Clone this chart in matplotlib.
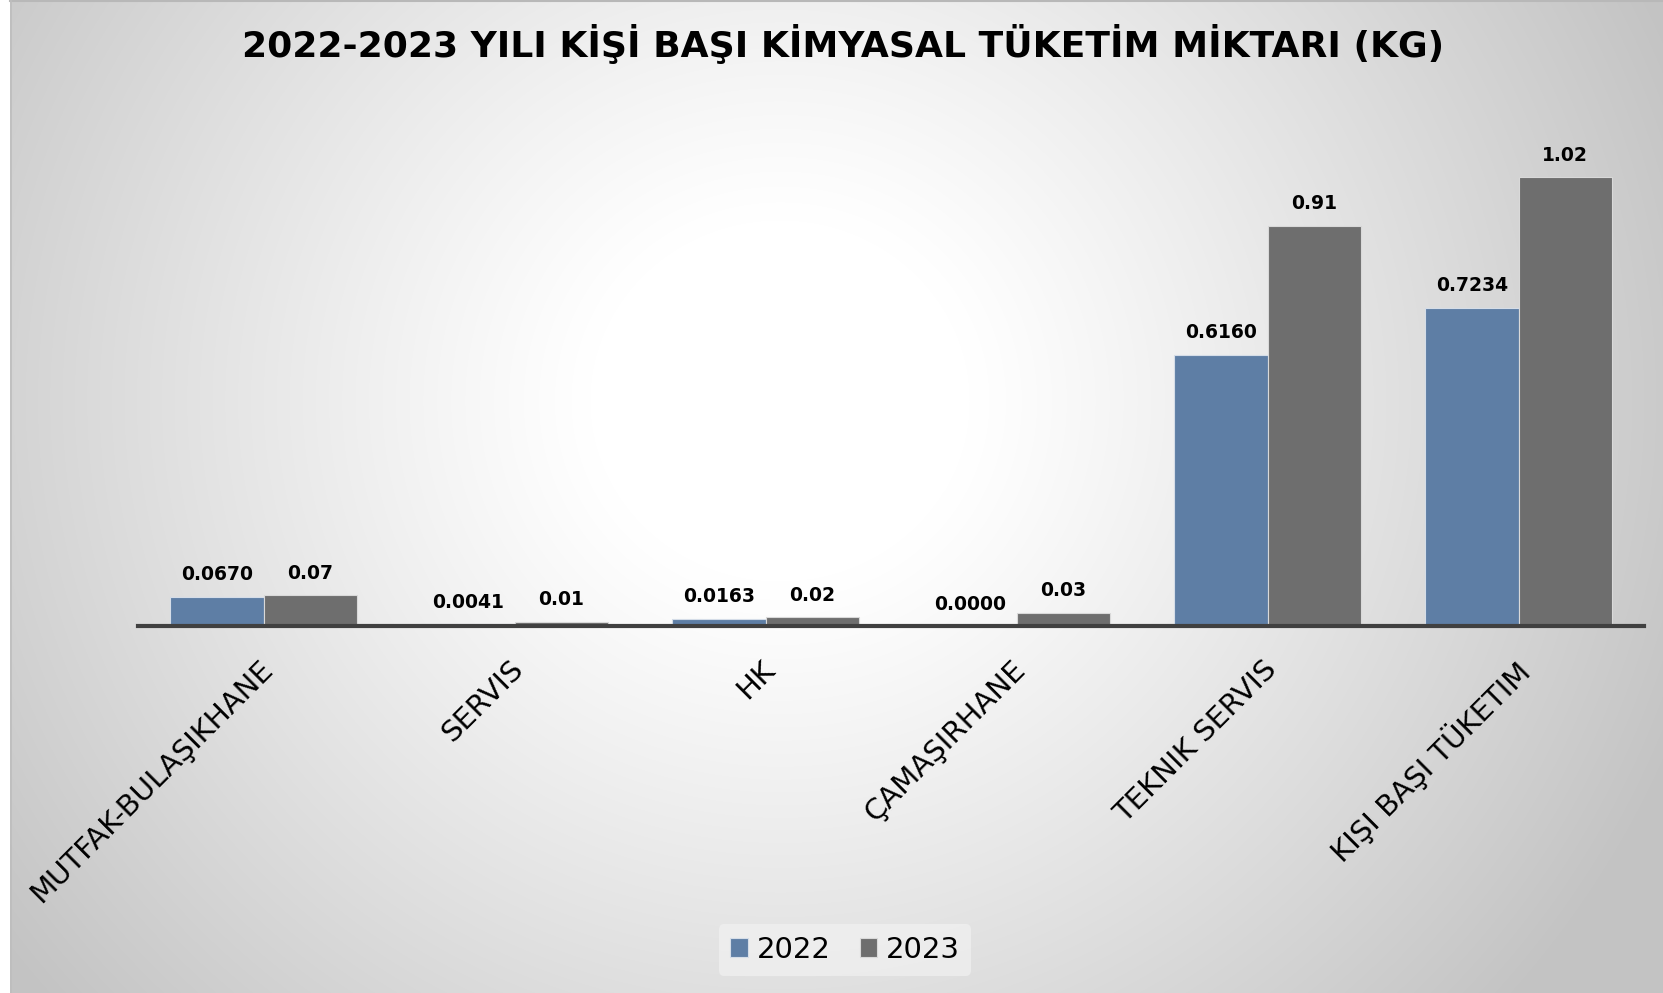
import numpy as np
import matplotlib
matplotlib.use("Agg")
import matplotlib.pyplot as plt

plt.rcParams['font.family'] = ['DejaVu Sans']

categories = ["MUTFAK-BULAŞIKHANE", "SERVIS", "HK", "ÇAMAŞIRHANE", "TEKNIK SERVIS", "KIŞI BAŞI TÜKETIM"]
years = ["2022", "2023"]
values_2022 = [0.0670, 0.0041, 0.0163, 0.0000, 0.6160, 0.7234]
values_2023 = [0.07, 0.01, 0.02, 0.03, 0.91, 1.02]

COLOR_2022 = "#5e7ea5"
COLOR_2023 = "#6e6e6e"

W, H = 1663, 993
fig = plt.figure(figsize=(W / 100, H / 100), dpi=100)
fig.patch.set_facecolor("white")

# radial grey gradient background (white in the middle)
bg = fig.add_axes([10 / W, 0, 1 - 10 / W, 1 - 1 / H], zorder=-5)
yy, xx = np.mgrid[0:H, 10:W]
d = np.hypot(xx - 780, (yy - 400) * 1.05)
t = np.clip((d - 190) / 780, 0, 1)
shade = 1 - 0.235 * t ** 1.1
bg.imshow(np.dstack([shade] * 3), aspect="auto", extent=(0, 1, 0, 1))
bg.set_axis_off()
# thin grey frame line at top and left
fig.add_artist(plt.Line2D([10 / W, 1], [1 - 0.5 / H] * 2, color="#b8b8b8", lw=1.5))
fig.add_artist(plt.Line2D([10.5 / W] * 2, [0, 1], color="#bdbdbd", lw=1.2))

ax = fig.add_axes([138 / W, (H - 626) / H, (1644 - 138) / W, 528 / H])
ax.patch.set_alpha(0)

x = np.arange(len(categories))
bw = 0.372
b1 = ax.bar(x - bw / 2, values_2022, bw, color=COLOR_2022, edgecolor="#d5dde8",
            linewidth=0.8, label=years[0], zorder=3)
b2 = ax.bar(x + bw / 2, values_2023, bw, color=COLOR_2023, edgecolor="#d9d9d9",
            linewidth=0.8, label=years[1], zorder=3)

for rect, v in zip(b1, values_2022):
    ax.annotate(f"{v:.4f}", (rect.get_x() + rect.get_width() / 2, v),
                xytext=(0, 9), textcoords="offset points", ha="center", va="bottom",
                fontsize=13.5, fontweight="bold")
for rect, v in zip(b2, values_2023):
    ax.annotate(f"{v:.2f}", (rect.get_x() + rect.get_width() / 2, v),
                xytext=(0, 9), textcoords="offset points", ha="center", va="bottom",
                fontsize=13.5, fontweight="bold")

ax.set_xlim(-0.5, len(categories) - 0.5)
ax.set_ylim(0, 1.2)
ax.set_yticks([])
for s in ["top", "right", "left"]:
    ax.spines[s].set_visible(False)
ax.spines["bottom"].set_color("#404040")
ax.spines["bottom"].set_linewidth(3)
ax.spines["bottom"].set_zorder(4)

ax.set_xticks(x - 0.02)
ax.set_xticklabels(categories, rotation=45, ha="right", va="top",
                   rotation_mode="anchor", fontsize=21)
ax.tick_params(axis="x", length=0, pad=21)

fig.text(843 / W, 1 - 44 / H, "2022-2023 YILI KİŞİ BAŞI KİMYASAL TÜKETİM MİKTARI (KG)",
         ha="center", va="center", fontsize=26, fontweight="bold")

leg = fig.legend(handles=[b1, b2], labels=years, loc="center", bbox_to_anchor=(845 / W, 1 - 950 / H),
                 ncol=2, frameon=True, fontsize=21, handlelength=0.6, handleheight=0.6,
                 handletextpad=0.3, columnspacing=1.0, borderpad=0.4)
leg.get_frame().set_facecolor("#f4f4f4")
leg.get_frame().set_edgecolor("none")
leg.get_frame().set_alpha(0.6)

fig.savefig("out.png", dpi=100)
